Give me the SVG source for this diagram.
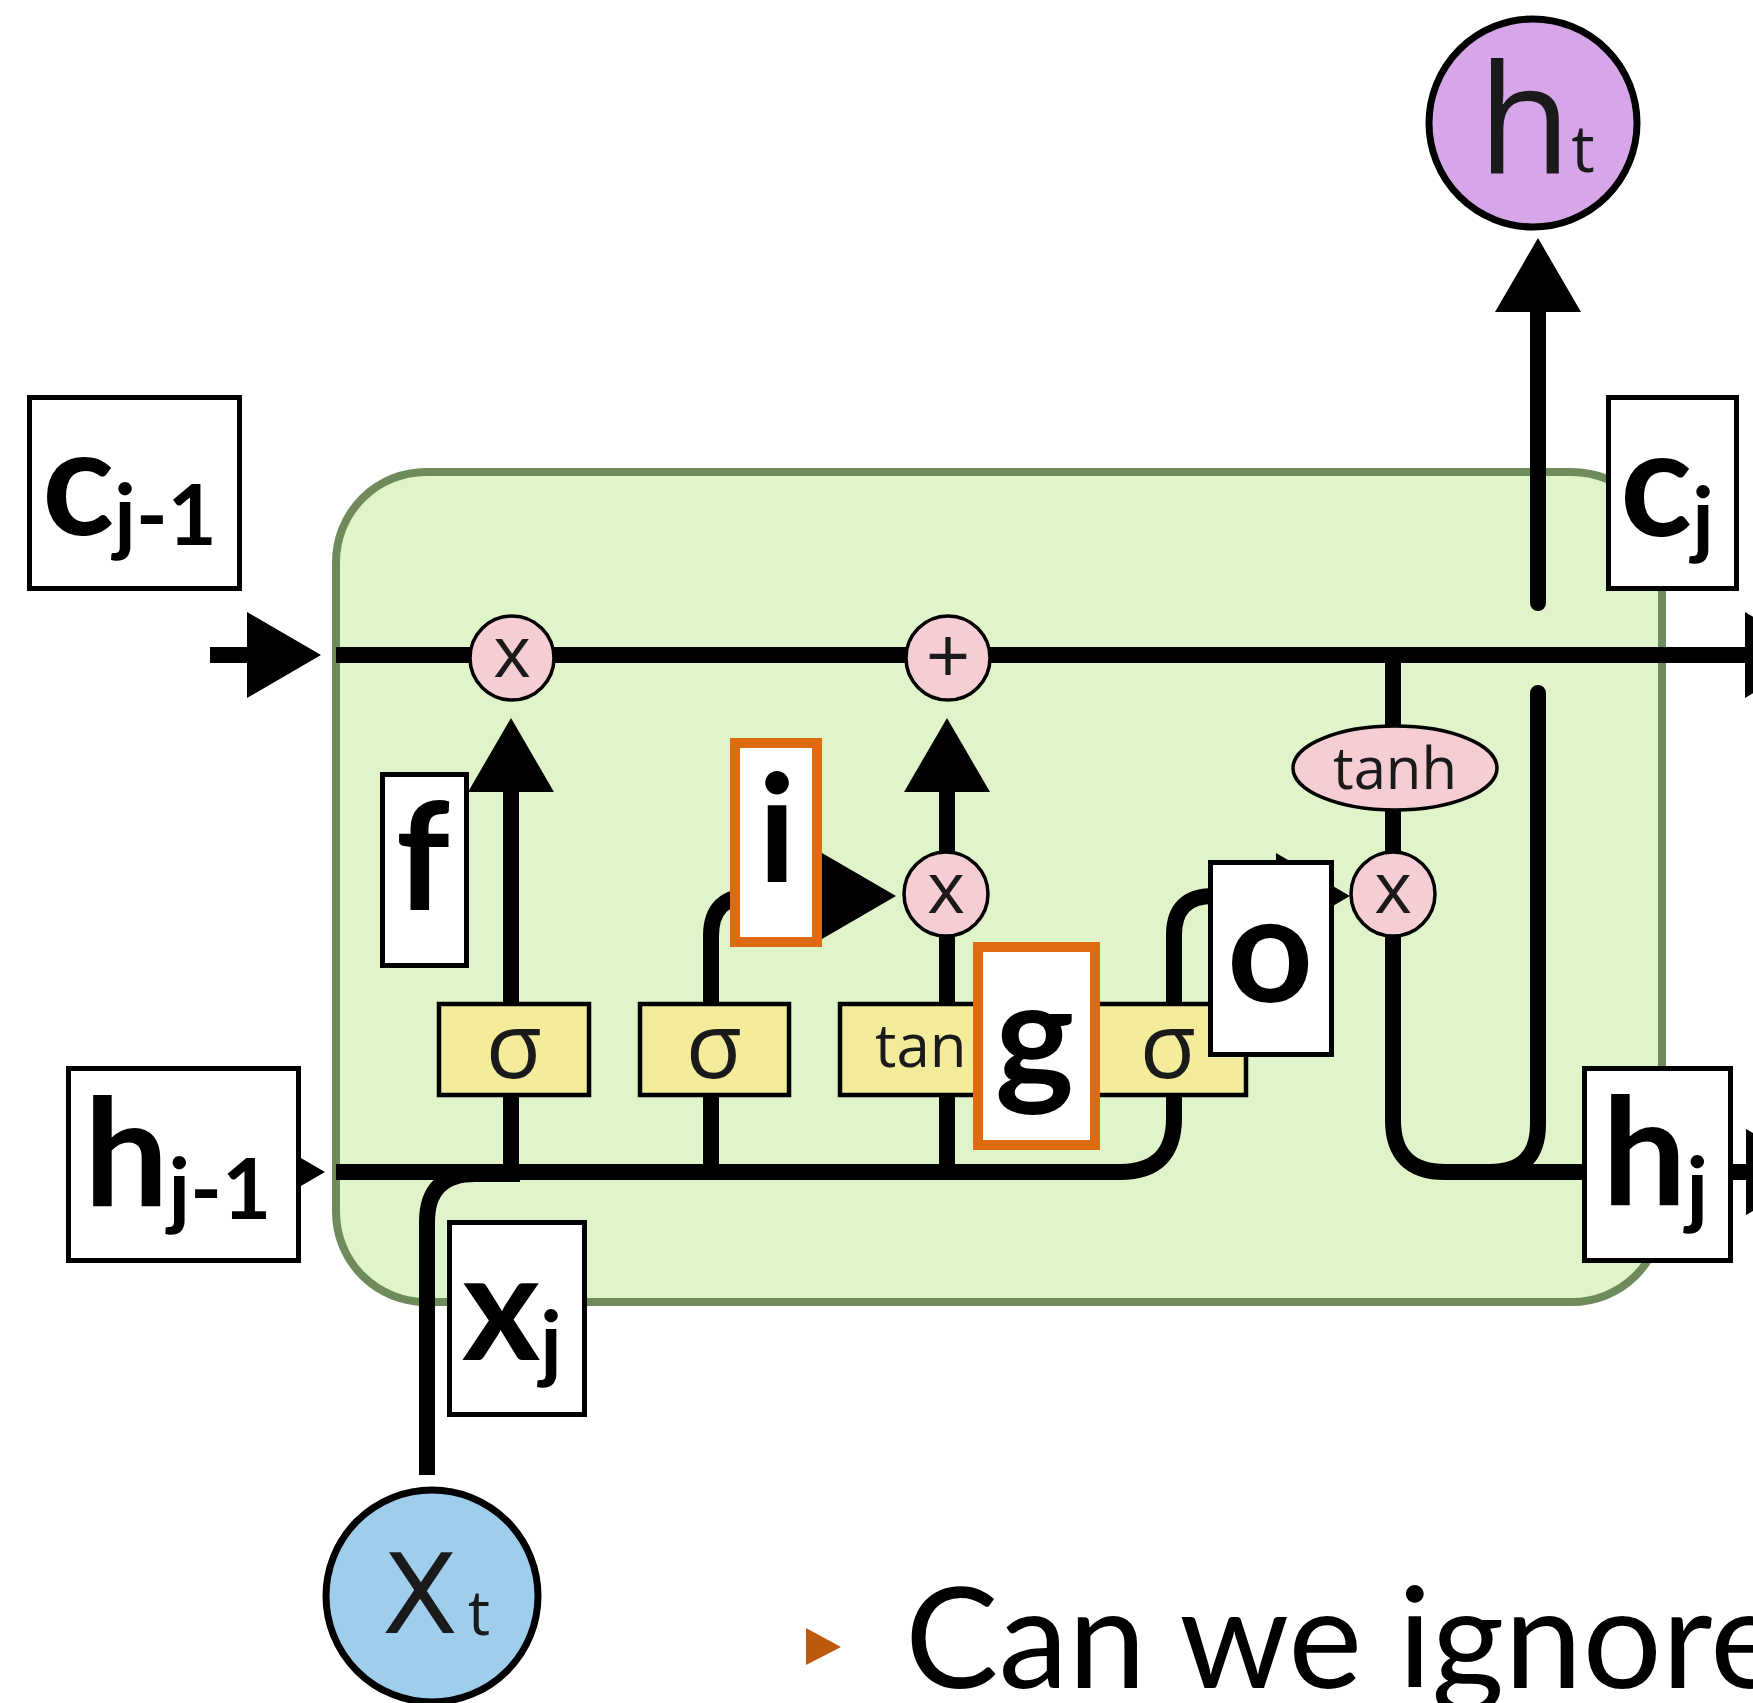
<svg xmlns="http://www.w3.org/2000/svg" width="1753" height="1703" viewBox="0 0 1753 1703">
<defs>
<style>
.wire{fill:none;stroke:#000;stroke-width:16}
.op{fill:#F5CDD3;stroke:#000;stroke-width:3.5}
.gate{fill:#F3EC9A;stroke:#000;stroke-width:4.5}
.lbox{fill:#fff;stroke:#000;stroke-width:5}
.obox{fill:#fff;stroke:#DE6A12;stroke-width:10}
.lbl{font-family:Lato,"Open Sans",sans-serif;font-weight:700;font-size:150px;fill:#000}
.sub{font-size:85px}
.thin{font-family:"Open Sans","DejaVu Sans",sans-serif;font-weight:400;fill:#1a1a1a}
</style>
<marker id="arr" markerUnits="userSpaceOnUse" markerWidth="76" markerHeight="88" refX="0" refY="43" orient="auto" overflow="visible">
<path d="M0,0 L74,43 L0,86 Z" fill="#000"/>
</marker>
</defs>
<rect width="1753" height="1703" fill="#fff"/>
<g id="cell">
<rect x="336" y="472" width="1326" height="830" rx="90" ry="90" fill="#DFF4C9" stroke="#6F8B5B" stroke-width="8"/>
</g>
<g id="connectors">
<path class="wire" d="M210,655 H247" marker-end="url(#arr)"/>
<path class="wire" d="M336,655 H1745" marker-end="url(#arr)"/>
<path class="wire" d="M240,1172 H251" marker-end="url(#arr)"/>
<path class="wire" d="M336,1172 H1120 Q1174,1172 1174,1118 V935 Q1174,896 1213,896 H1276" marker-end="url(#arr)"/>
<path class="wire" d="M511,1172 V792" marker-end="url(#arr)"/>
<path class="wire" d="M711,1172 V936 Q711,896 751,896 H822" marker-end="url(#arr)"/>
<path class="wire" d="M947,1172 V792" marker-end="url(#arr)"/>
<path class="wire" d="M427,1475 V1222 Q427,1174 475,1174 H520"/>
<path class="wire" d="M1393,655 V1120 Q1393,1172 1445,1172 H1746" marker-end="url(#arr)"/>
<path class="wire" stroke-linecap="round" d="M1490,1172 Q1538,1172 1538,1124 V693"/>
<path class="wire" stroke-linecap="round" d="M1538,603 V312" marker-end="url(#arr)"/>
</g>
<g id="op-forget">
<circle class="op" cx="512" cy="658" r="42"/>
<text class="thin" x="512" y="677" font-size="72" text-anchor="middle">x</text>
</g>
<g id="op-add">
<circle class="op" cx="948" cy="658" r="42"/>
<text class="thin" x="948" y="684" font-size="78" text-anchor="middle">+</text>
</g>
<g id="op-input">
<circle class="op" cx="946" cy="894" r="42"/>
<text class="thin" x="946" y="913" font-size="72" text-anchor="middle">x</text>
</g>
<g id="op-output">
<circle class="op" cx="1393" cy="894" r="42"/>
<text class="thin" x="1393" y="913" font-size="72" text-anchor="middle">x</text>
</g>
<g id="op-tanh">
<ellipse class="op" cx="1395" cy="768" rx="102" ry="42"/>
<text class="thin" x="1395" y="789" font-size="58" text-anchor="middle">tanh</text>
</g>
<g id="gate-f">
<rect class="gate" x="439" y="1004" width="150" height="91"/>
<text class="thin" x="514" y="1078" font-size="92" text-anchor="middle">σ</text>
</g>
<g id="gate-i">
<rect class="gate" x="640" y="1004" width="149" height="91"/>
<text class="thin" x="714" y="1078" font-size="92" text-anchor="middle">σ</text>
</g>
<g id="gate-g">
<rect class="gate" x="840" y="1004" width="170" height="91"/>
<text class="thin" x="875" y="1067" font-size="60">tan</text>
</g>
<g id="gate-o">
<rect class="gate" x="1060" y="1004" width="186" height="91"/>
<text class="thin" x="1168" y="1078" font-size="92" text-anchor="middle">σ</text>
</g>
<g id="node-ht">
<circle cx="1533" cy="123" r="104" fill="#D6A6E8" stroke="#000" stroke-width="7"/>
<text class="thin" x="1478" y="174" font-size="152">h<tspan dy="-2" font-size="66">t</tspan></text>
</g>
<g id="node-xt">
<circle cx="432" cy="1596" r="106" fill="#9FCDEC" stroke="#000" stroke-width="7"/>
<text x="382" y="1633" font-family="'DejaVu Sans','Open Sans',sans-serif" font-size="111" fill="#1a1a1a">X<tspan x="468" y="1635" font-family="'Open Sans','DejaVu Sans',sans-serif" font-size="62">t</tspan></text>
</g>
<g id="label-cprev">
<rect class="lbox" x="29.5" y="397.5" width="210" height="191"/>
<text class="lbl" x="42" y="535">c<tspan class="sub" dy="10">j-1</tspan></text>
</g>
<g id="label-cj">
<rect class="lbox" x="1608.5" y="397.5" width="128" height="191"/>
<text class="lbl" x="1620" y="536">c<tspan class="sub" dy="12">j</tspan></text>
</g>
<g id="label-hprev">
<rect class="lbox" x="68.5" y="1068.5" width="230" height="192"/>
<text class="lbl" x="84" y="1206">h<tspan class="sub" dy="13">j-1</tspan></text>
</g>
<g id="label-hj">
<rect class="lbox" x="1584.5" y="1068.5" width="146" height="192"/>
<text class="lbl" x="1602" y="1205">h<tspan class="sub" dy="13">j</tspan></text>
</g>
<g id="label-xj">
<rect class="lbox" x="449.5" y="1222.5" width="135" height="192"/>
<text class="lbl" x="462" y="1360">x<tspan class="sub" dy="12">j</tspan></text>
</g>
<g id="label-f">
<rect class="lbox" x="382.5" y="774.5" width="84" height="191"/>
<text class="lbl" x="396" y="910">f</text>
</g>
<g id="label-i">
<rect class="obox" x="735" y="743" width="82" height="199"/>
<text class="lbl" x="758" y="882">i</text>
</g>
<g id="label-g">
<rect class="obox" x="978" y="947" width="117" height="198"/>
<text class="lbl" x="995" y="1088">g</text>
</g>
<g id="label-o">
<rect class="lbox" x="1210.5" y="862.5" width="121" height="192"/>
<text class="lbl" x="1227" y="1002">o</text>
</g>
<g id="caption">
<polygon points="806,1628 841,1647 806,1665" fill="#BE5A0E"/>
<text x="905" y="1688" font-family="Lato,'Open Sans',sans-serif" font-size="140" fill="#000">Can we ignore</text>
</g>
</svg>
